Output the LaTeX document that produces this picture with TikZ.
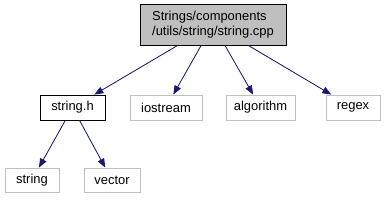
\documentclass[tikz,border=0pt]{standalone}
\usepackage{fontspec}
\setmainfont{Liberation Sans}
\usetikzlibrary{arrows.meta,positioning}
\definecolor{edgeblue}{HTML}{191970}
\definecolor{boxgray}{HTML}{BFBFBF}

\begin{document}
\begin{tikzpicture}[
    x=1bp, y=-1bp,
    filenode/.style={
        draw=black,
        fill=white,
        line width=0.8bp,
        minimum height=25bp,
        inner sep=0pt,
        font=\fontsize{13}{15}\selectfont,
        align=center
    },
    sysnode/.style={
        filenode,
        draw=boxgray
    },
    incl/.style={
        -{Triangle[length=9bp,width=7bp]},
        line width=0.8bp,
        draw=edgeblue,
        fill=edgeblue
    }
]
    \useasboundingbox (0,0) rectangle (385,201);

    % Root file
    \node[filenode, fill=boxgray, align=left, minimum width=146bp, minimum height=41bp] (stringcpp) at (213,24.5) {Strings/components\\/utils/string/string.cpp};

    % Direct includes
    \node[filenode, minimum width=65bp] (stringh) at (72.5,107.5) {string.h};
    \node[sysnode, minimum width=72bp] (iostream) at (166,107.5) {iostream};
    \node[sysnode, minimum width=69bp] (algorithm) at (260.5,107.5) {algorithm};
    \node[sysnode, minimum width=54bp] (regex) at (353,107.5) {regex};

    % Includes of string.h
    \node[sysnode, minimum width=54bp, minimum height=24bp] (string) at (32,180) {string};
    \node[sysnode, minimum width=56bp, minimum height=24bp] (vector) at (112,180) {vector};

    % Include edges
    \draw[incl] (stringcpp) -- (stringh);
    \draw[incl] (stringcpp) -- (iostream);
    \draw[incl] (stringcpp) -- (algorithm);
    \draw[incl] (stringcpp) -- (regex);
    \draw[incl] (stringh) -- (string);
    \draw[incl] (stringh) -- (vector);
\end{tikzpicture}
\end{document}
